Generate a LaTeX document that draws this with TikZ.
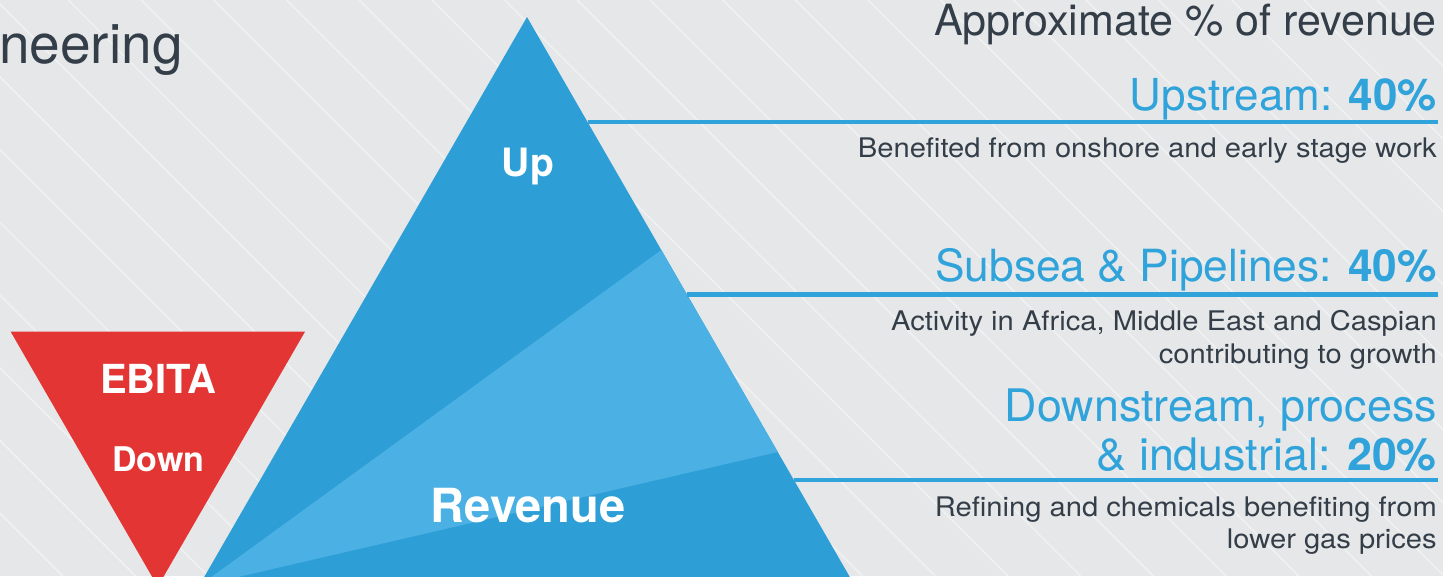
\documentclass[tikz,border=0pt]{standalone}
\usepackage{fontspec}
\setmainfont{TeX Gyre Heros}
\newfontfamily\notefont{TeX Gyre Heros}[FakeStretch=1.08]
\definecolor{bgcol}{HTML}{E6E7E9}
\definecolor{stripecol}{HTML}{F0F1F2}
\definecolor{darktext}{HTML}{343E49}
\definecolor{accent}{HTML}{2FA3DA}
\definecolor{bluedark}{HTML}{2E9FD6}
\definecolor{bluelight}{HTML}{4BB0E3}
\definecolor{redtri}{HTML}{E43535}
\newcommand{\fs}[1]{\fontsize{#1}{#1}\selectfont}
\tikzset{
  stripe/.style={draw=stripecol, line width=1.5pt},
  rule/.style={draw=accent, line width=4.6pt, line cap=butt},
  inlabel/.style={inner sep=0pt, anchor=base, text=white, font=\bfseries},
  heading/.style={inner sep=0pt, anchor=base east, text=accent},
  note/.style={inner sep=0pt, anchor=base east, text=darktext, font=\notefont\fs{27}},
}
\begin{document}
\begin{tikzpicture}[x=1pt,y=-1pt]
\useasboundingbox (0,0) rectangle (1443,576);
\clip (0,0) rectangle (1443,576);

% background with diagonal pinstripes
\fill[bgcol] (0,0) rectangle (1443,576);
\foreach \k in {-18,...,12}{
  \draw[stripe] ({650+72.7*\k},0) -- ++(576,576);
}

% title fragment
\node[inner sep=0pt, anchor=base west, text=darktext, font=\fs{55}] (title) at (-1,63.3) {neering};

% revenue pyramid
\coordinate (apex) at (527,17);
\coordinate (bl) at (199,586);
\coordinate (br) at (855,586);
\coordinate (f1) at (661.3,250);
\coordinate (f2) at (777.8,452);
\fill[bluedark] (apex) -- (bl) -- (br) -- cycle;
\fill[bluelight] (bl) -- (f1) -- (f2) -- cycle;

% EBITA triangle
\coordinate (rl) at (10.7,331.7);
\coordinate (rr) at (305,331.7);
\coordinate (rb) at (157.8,586.6);
\fill[redtri] (rl) -- (rr) -- (rb) -- cycle;

\node[inlabel, font=\bfseries\fs{39}] (up) at (528,176.5) {Up};
\node[inlabel, font=\bfseries\fs{47}] (revenue) at (528,522.5) {Revenue};
\node[inlabel, font=\bfseries\fs{40}] (ebita) at (158.3,393.3) {EBITA};
\node[inlabel, font=\bfseries\fs{34}] (down) at (158.3,471.7) {Down};

% segment rules from the pyramid edge
\coordinate (e1) at (587.5,122);
\coordinate (r1) at (1438,122);
\coordinate (e2) at (687.3,294.5);
\coordinate (r2) at (1438,294.5);
\coordinate (e3) at (793.9,480);
\coordinate (r3) at (1438,480);
\draw[rule] (e1) -- (r1);
\draw[rule] (e2) -- (r2);
\draw[rule] (e3) -- (r3);

% right-hand texts
\node[inner sep=0pt, anchor=base east, text=darktext, font=\fs{43}] (approx) at (1437,35) {Approximate \% of revenue};

\node[heading, font=\fs{44}] (upstream) at (1437,110) {Upstream: \textbf{40\%}};
\node[note] (n1) at (1437,157) {Benefited from onshore and early stage work};

\node[heading, font=\fs{44.3}] (subsea) at (1437,281) {Subsea \& Pipelines: \textbf{40\%}};
\node[note] (n2a) at (1437,330) {Activity in Africa, Middle East and Caspian};
\node[note] (n2b) at (1437,363.3) {contributing to growth};

\node[heading, font=\fs{44.8}] (downa) at (1437,421.7) {Downstream, process};
\node[heading, font=\fs{44.8}] (downb) at (1437,470) {\& industrial: \textbf{20\%}};
\node[note] (n3a) at (1437,516.7) {Refining and chemicals benefiting from};
\node[note] (n3b) at (1437,548.3) {lower gas prices};
\end{tikzpicture}
\end{document}
